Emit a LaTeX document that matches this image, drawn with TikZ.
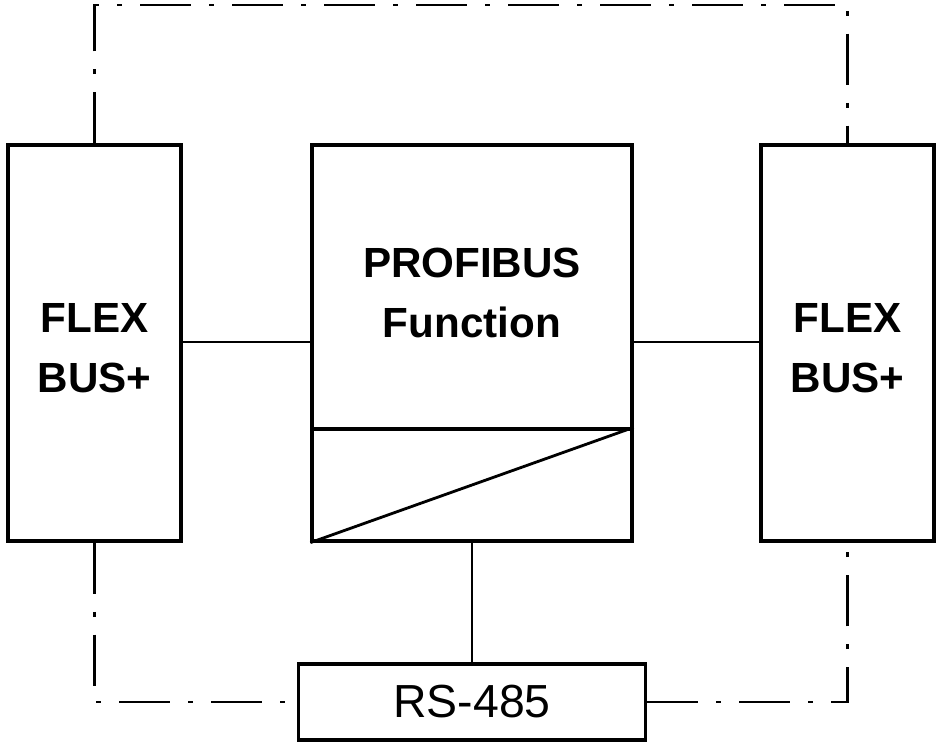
\documentclass[tikz,border=0pt]{standalone}
\usepackage{fontspec}
\setmainfont{Liberation Sans}
\usepackage{tikz}
\usetikzlibrary{positioning,calc}

\begin{document}
\begin{tikzpicture}[
	box/.style={draw,line width=2.3pt,rectangle,inner sep=0pt},
	flexbox/.style={box,minimum width=4.325cm,minimum height=9.9cm},
	boxtext/.style={align=center,inner sep=0pt,font=\fontsize{30}{42}\selectfont\bfseries},
	wire/.style={line width=1.8pt},
	dashdot/.style={line width=1.5pt,dash pattern=on 1.28cm off 0.45cm on 0.12cm off 0.45cm}]
	\useasboundingbox (0,0) rectangle (23.5,18.65);
	% the three main blocks
	\node[flexbox] (lflex) at (2.3625,10.075) {};
	\node[flexbox] (rflex) at (21.1875,10.075) {};
	\node[box,minimum width=8cm,minimum height=7.1cm] (prof) at (11.8,11.475) {};
	\node[box,minimum width=8cm,minimum height=2.8cm] (conv) at (11.8,6.525) {};
	\draw[line width=2pt] (conv.south west) -- (conv.north east);
	\node[box,minimum width=8.675cm,minimum height=1.9cm,font=\fontsize{33}{40}\selectfont] (rs) at (11.8,1.1) {RS-485};
	% texts
	\node[boxtext] (ltext) at ([yshift=-0.13cm]lflex.center) {FLEX\\BUS+};
	\node[boxtext] (rtext) at ([yshift=-0.13cm]rflex.center) {FLEX\\BUS+};
	\node[boxtext,font=\fontsize{30}{43}\selectfont\bfseries] (ptext) at ([yshift=-0.15cm]prof.center) {PROFIBUS\\Function};
	% solid connections
	\draw[wire] (lflex.east |- 0,10.1) -- (prof.west |- 0,10.1);
	\draw[wire] (prof.east |- 0,10.1) -- (rflex.west |- 0,10.1);
	\draw[wire] (conv.south) -- (rs.north);
	% dash-dot loop
	\coordinate (tl) at (lflex.north |- 0,18.525);
	\coordinate (tr) at (rflex.north |- 0,18.525);
	\coordinate (bl) at (lflex.south |- rs.west);
	\coordinate (br) at (rflex.south |- rs.east);
	\draw[dashdot] (lflex.north) -- (tl) -- (tr) -- (rflex.north);
	\draw[dashdot] (lflex.south) -- (bl) -- (rs.west);
	\draw[dashdot] (rs.east) -- (br) -- (rflex.south);
\end{tikzpicture}
\end{document}
